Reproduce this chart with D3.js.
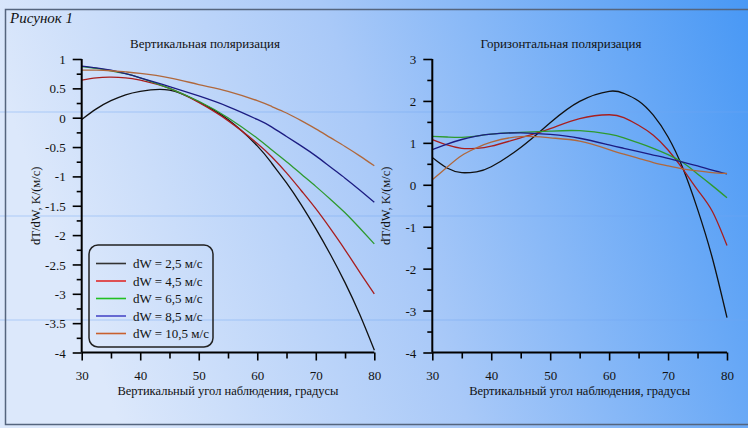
<!DOCTYPE html>
<html>
<head>
<meta charset="utf-8">
<script src="https://cdn.jsdelivr.net/npm/d3@7"></script>
<style>
  body { margin: 0; }
  svg text { font-family: "Liberation Serif", "DejaVu Serif", serif; fill: #111; }
</style>
</head>
<body>
<svg width="748" height="428"></svg>
<script>
var svg = d3.select("svg"),
    width = +svg.attr("width"),
    height = +svg.attr("height");

// angles (deg) shared by every series
var angles = [30, 32.5, 35, 37.5, 40, 45, 50, 55, 60, 62.5, 65, 67.5, 70, 72.5, 75, 77.5, 80];

var seriesNames = ["dW = 2,5 м/с", "dW = 4,5 м/с", "dW = 6,5 м/с", "dW = 8,5 м/с", "dW = 10,5 м/с"];

// vertical polarisation
var vert25  = [-0.03, 0.15, 0.29, 0.39, 0.45, 0.47, 0.27, -0.03, -0.48, -0.78, -1.11, -1.48, -1.89, -2.33, -2.81, -3.35, -3.96];
var vert45  = [0.64, 0.68, 0.69, 0.68, 0.64, 0.50, 0.26, -0.05, -0.44, -0.67, -0.94, -1.24, -1.55, -1.89, -2.25, -2.63, -3.0];
var vert65  = [0.87, 0.84, 0.80, 0.75, 0.68, 0.50, 0.28, 0.0, -0.35, -0.55, -0.75, -0.96, -1.17, -1.39, -1.62, -1.88, -2.15];
var vert85  = [0.88, 0.85, 0.81, 0.75, 0.68, 0.53, 0.37, 0.19, -0.03, -0.16, -0.32, -0.48, -0.65, -0.84, -1.03, -1.23, -1.44];
var vert105 = [0.81, 0.81, 0.80, 0.78, 0.755, 0.68, 0.565, 0.45, 0.29, 0.19, 0.08, -0.05, -0.19, -0.34, -0.49, -0.65, -0.82];

// horizontal polarisation
var hor25  = [0.65, 0.40, 0.29, 0.31, 0.43, 0.89, 1.48, 1.99, 2.23, 2.18, 2.0, 1.66, 1.14, 0.40, -0.58, -1.74, -3.17];
var hor45  = [1.08, 0.95, 0.87, 0.87, 0.92, 1.12, 1.34, 1.58, 1.67, 1.60, 1.42, 1.18, 0.83, 0.38, -0.12, -0.63, -1.45];
var hor65  = [1.155, 1.14, 1.13, 1.16, 1.21, 1.25, 1.28, 1.29, 1.21, 1.12, 1.0, 0.87, 0.72, 0.53, 0.26, -0.02, -0.31];
var hor85  = [0.84, 0.97, 1.08, 1.16, 1.21, 1.24, 1.20, 1.11, 0.95, 0.87, 0.79, 0.71, 0.63, 0.54, 0.45, 0.35, 0.26];
var hor105 = [0.12, 0.42, 0.70, 0.88, 1.02, 1.15, 1.12, 1.04, 0.84, 0.73, 0.63, 0.53, 0.45, 0.38, 0.33, 0.29, 0.27];

var vertTicks = [1, 0.5, 0, -0.5, -1, -1.5, -2, -2.5, -3, -3.5, -4];
var horTicks = [3, 2, 1, 0, -1, -2, -3, -4];

var lineColors = ["#111111", "#a81e1e", "#2e9a2e", "#1c1c82", "#b0683c"];
var legendColors = ["#333333", "#e02a2a", "#22c022", "#4a4ac8", "#c8602e"];

// background
var defs = svg.append("defs");
var bg = defs.append("linearGradient").attr("id", "bg")
    .attr("x1", "0%").attr("y1", "20%").attr("x2", "100%").attr("y2", "0%");
bg.append("stop").attr("offset", "0%").attr("stop-color", "#dce8fb");
bg.append("stop").attr("offset", "45%").attr("stop-color", "#a9c9f8");
bg.append("stop").attr("offset", "100%").attr("stop-color", "#4898f5");

svg.append("rect").attr("width", width).attr("height", height).attr("fill", "url(#bg)");

// faint stripes across the picture
[112, 216, 320].forEach(function(y) {
  svg.append("line").attr("x1", 0).attr("x2", width).attr("y1", y).attr("y2", y)
      .attr("stroke", "#6fa6ef").attr("stroke-opacity", 0.45).attr("stroke-width", 1);
});

// frame
svg.append("path")
    .attr("d", "M" + width + ",9.5H5.5V424.5H" + width)
    .attr("fill", "none").attr("stroke", "#55657e").attr("stroke-width", 1.5);

svg.append("text").attr("x", 10).attr("y", 23)
    .style("font-size", "15px").style("font-style", "italic")
    .text("Рисунок 1");

function drawPanel(opt) {
  var x = d3.scaleLinear().domain([30, 80]).range([opt.left, opt.right]);
  var y = d3.scaleLinear().domain(opt.domain).range([opt.bottom, opt.top]);
  var g = svg.append("g");

  // curves
  var line = d3.line()
      .x(function(d) { return x(d[0]); })
      .y(function(d) { return y(d[1]); })
      .curve(d3.curveNatural);

  opt.series.forEach(function(vals, i) {
    g.append("path")
        .datum(angles.map(function(a, j) { return [a, vals[j]]; }))
        .attr("d", line)
        .attr("fill", "none")
        .attr("stroke", lineColors[i])
        .attr("stroke-width", 1.3);
  });

  // x axis
  var xAxis = g.append("g").attr("transform", "translate(0," + opt.bottom + ")")
      .call(d3.axisBottom(x).tickValues(d3.range(30, 81, 5)).tickSize(8).tickFormat(""));
  xAxis.selectAll(".tick line").attr("y2", function(d) { return d % 10 === 0 ? 8 : 6; });
  xAxis.selectAll(".tick").filter(function(d) { return d % 10 === 0; })
      .append("text").attr("y", 27).attr("text-anchor", "middle")
      .style("font-size", "13px").text(function(d) { return d; });

  // y axis
  var minor = [];
  for (var k = 0; k < opt.yTicks.length - 1; k++) {
    minor.push((opt.yTicks[k] + opt.yTicks[k + 1]) / 2);
  }
  var yAxis = g.append("g").attr("transform", "translate(" + opt.left + ",0)")
      .call(d3.axisLeft(y).tickValues(opt.yTicks.concat(minor)).tickSize(9).tickFormat(""));
  yAxis.selectAll(".tick line").attr("x2", function(d) { return opt.yTicks.indexOf(d) > -1 ? -9 : -5; });
  yAxis.selectAll(".tick").filter(function(d) { return opt.yTicks.indexOf(d) > -1; })
      .append("text").attr("x", -16).attr("dy", "0.35em").attr("text-anchor", "end")
      .style("font-size", "13px").text(function(d) { return d; });

  g.selectAll(".domain").attr("stroke", "#000").attr("stroke-width", 2);
  xAxis.select(".domain").attr("d", "M" + opt.left + ",0H" + opt.right);
  yAxis.select(".domain").attr("d", "M0," + opt.top + "V" + opt.bottom);
  g.selectAll(".tick line").attr("stroke", "#000").attr("stroke-width", 1.6);

  g.append("text").attr("x", opt.titleX).attr("y", 48).attr("text-anchor", "middle")
      .style("font-size", "13px").text(opt.title);
  g.append("text").attr("x", (opt.left + opt.right) / 2).attr("y", opt.bottom + 42)
      .attr("text-anchor", "middle").style("font-size", "12.5px")
      .text("Вертикальный угол наблюдения, градусы");
  g.append("text")
      .attr("transform", "translate(" + (opt.left - 42) + "," + ((opt.top + opt.bottom) / 2) + ") rotate(-90)")
      .attr("text-anchor", "middle").style("font-size", "12.5px")
      .text("dT/dW, K/(м/с)");
  return g;
}

drawPanel({
  left: 81.7, right: 374.3, top: 59, bottom: 352.5,
  domain: [-4, 1], yTicks: vertTicks, titleX: 205,
  title: "Вертикальная поляризация",
  series: [vert25, vert45, vert65, vert85, vert105]
});

drawPanel({
  left: 432.3, right: 727, top: 59, bottom: 352.5,
  domain: [-4, 3], yTicks: horTicks, titleX: 561,
  title: "Горизонтальная поляризация",
  series: [hor25, hor45, hor65, hor85, hor105]
});

// legend
var legend = svg.append("g");
legend.append("rect")
    .attr("x", 89).attr("y", 245).attr("width", 124).attr("height", 102)
    .attr("rx", 9).attr("fill", "none").attr("stroke", "#222").attr("stroke-width", 1.5);
var item = legend.selectAll("g.item").data(seriesNames).enter().append("g")
    .attr("class", "item")
    .attr("transform", function(d, i) { return "translate(0," + (263.5 + i * 17.5) + ")"; });
item.append("line").attr("x1", 96).attr("x2", 126)
    .attr("stroke", function(d, i) { return legendColors[i]; }).attr("stroke-width", 1.6);
item.append("text").attr("x", 133).attr("dy", "0.35em")
    .style("font-size", "13px").text(function(d) { return d; });
</script>
</body>
</html>
